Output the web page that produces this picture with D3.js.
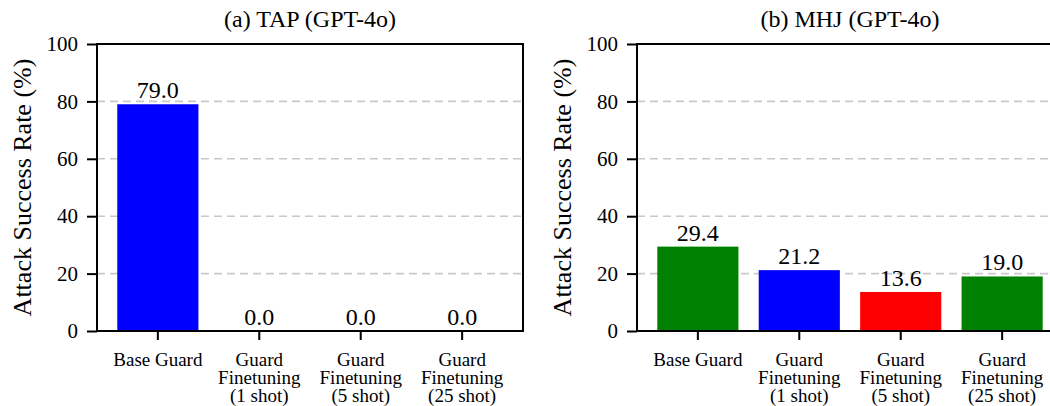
<!DOCTYPE html>
<html>
<head>
<meta charset="utf-8">
<script src="https://cdn.jsdelivr.net/npm/d3@7"></script>
<style>
  html, body { margin: 0; padding: 0; background: #fff; }
  svg { display: block; }
</style>
</head>
<body>
<svg id="chart" width="1050" height="406"></svg>
<script>
// Categories shared by both panels (multi-line tick labels)
const categories = ["Base Guard", "Guard Finetuning (1 shot)", "Guard Finetuning (5 shot)", "Guard Finetuning (25 shot)"];
const categoryLines = [["Base Guard"], ["Guard", "Finetuning", "(1 shot)"], ["Guard", "Finetuning", "(5 shot)"], ["Guard", "Finetuning", "(25 shot)"]];

// Attack success rates (%)
const tapValues = [79.0, 0.0, 0.0, 0.0];
const mhjValues = [29.4, 21.2, 13.6, 19.0];

const tapColors = ["#0000ff", "#0000ff", "#0000ff", "#0000ff"];
const mhjColors = ["#008000", "#0000ff", "#ff0000", "#008000"];

const panelTitles = ["(a) TAP (GPT-4o)", "(b) MHJ (GPT-4o)"];
const yTicks = [0, 20, 40, 60, 80, 100];
const gridTicks = [20, 40, 60, 80];
const yLabel = "Attack Success Rate (%)";

const SERIF = "'Liberation Serif', 'Times New Roman', 'DejaVu Serif', serif";
const svg = d3.select("#chart");
const plotTop = 44, plotBottom = 331;

function drawPanel(x0, x1, title, values, colors, labelX) {
  const g = svg.append("g").style("font-family", SERIF);
  const x = d3.scaleBand().domain(categories).range([x0, x1]).paddingInner(0.2).paddingOuter(0.2);
  const y = d3.scaleLinear().domain([0, 100]).range([plotBottom, plotTop]);

  // dashed horizontal grid
  g.selectAll("line.grid").data(gridTicks).join("line")
    .attr("class", "grid")
    .attr("x1", x0).attr("x2", x1)
    .attr("y1", d => y(d)).attr("y2", d => y(d))
    .attr("stroke", "#c8c8c8").attr("stroke-width", 1.6)
    .attr("stroke-dasharray", "8,5");

  // bars
  g.selectAll("rect.bar").data(values).join("rect")
    .attr("class", "bar")
    .attr("x", (d, i) => x(categories[i]))
    .attr("width", x.bandwidth())
    .attr("y", d => y(d))
    .attr("height", d => y(0) - y(d))
    .attr("fill", (d, i) => colors[i]);

  // value labels
  g.selectAll("text.val").data(values).join("text")
    .attr("class", "val")
    .attr("x", (d, i) => x(categories[i]) + x.bandwidth() / 2)
    .attr("y", d => y(d) - 6)
    .attr("text-anchor", "middle")
    .style("font-family", SERIF)
    .style("font-size", "24px")
    .text(d => d.toFixed(1));

  // y axis
  const yAxis = g.append("g").attr("transform", `translate(${x0},0)`)
    .call(d3.axisLeft(y).tickValues(yTicks).tickSize(10).tickPadding(9).tickFormat(d3.format("d")));
  yAxis.attr("font-family", null).attr("font-size", null);
  yAxis.select(".domain").remove();
  yAxis.selectAll(".tick line").attr("stroke", "#000").attr("stroke-width", 2);
  yAxis.selectAll(".tick text")
    .style("font-family", SERIF).style("font-size", "21px").attr("fill", "#000");

  // x axis
  const xAxis = g.append("g").attr("transform", `translate(0,${plotBottom})`)
    .call(d3.axisBottom(x).tickSize(9).tickFormat(""));
  xAxis.attr("font-family", null).attr("font-size", null);
  xAxis.select(".domain").remove();
  xAxis.selectAll(".tick line").attr("stroke", "#000").attr("stroke-width", 2);
  xAxis.selectAll(".tick").each(function (d, i) {
    const t = d3.select(this).append("text")
      .attr("text-anchor", "middle")
      .style("font-family", SERIF)
      .style("font-size", "19px")
      .attr("fill", "#000");
    categoryLines[i].forEach((line, k) => {
      t.append("tspan").attr("x", 0).attr("y", 34.5 + k * 18.3).text(line);
    });
  });

  // frame
  g.append("rect").attr("x", x0).attr("y", plotTop)
    .attr("width", x1 - x0).attr("height", plotBottom - plotTop)
    .attr("fill", "none").attr("stroke", "#000").attr("stroke-width", 2);

  // title
  g.append("text").attr("x", (x0 + x1) / 2).attr("y", 27)
    .attr("text-anchor", "middle")
    .style("font-family", SERIF).style("font-size", "24px").text(title);

  // y label
  g.append("text")
    .attr("transform", `translate(${labelX},${(plotTop + plotBottom) / 2}) rotate(-90)`)
    .attr("text-anchor", "middle")
    .style("font-family", SERIF).style("font-size", "26px").text(yLabel);
}

drawPanel(97, 523, panelTitles[0], tapValues, tapColors, 31);
drawPanel(637, 1063, panelTitles[1], mhjValues, mhjColors, 571);
</script>
</body>
</html>
